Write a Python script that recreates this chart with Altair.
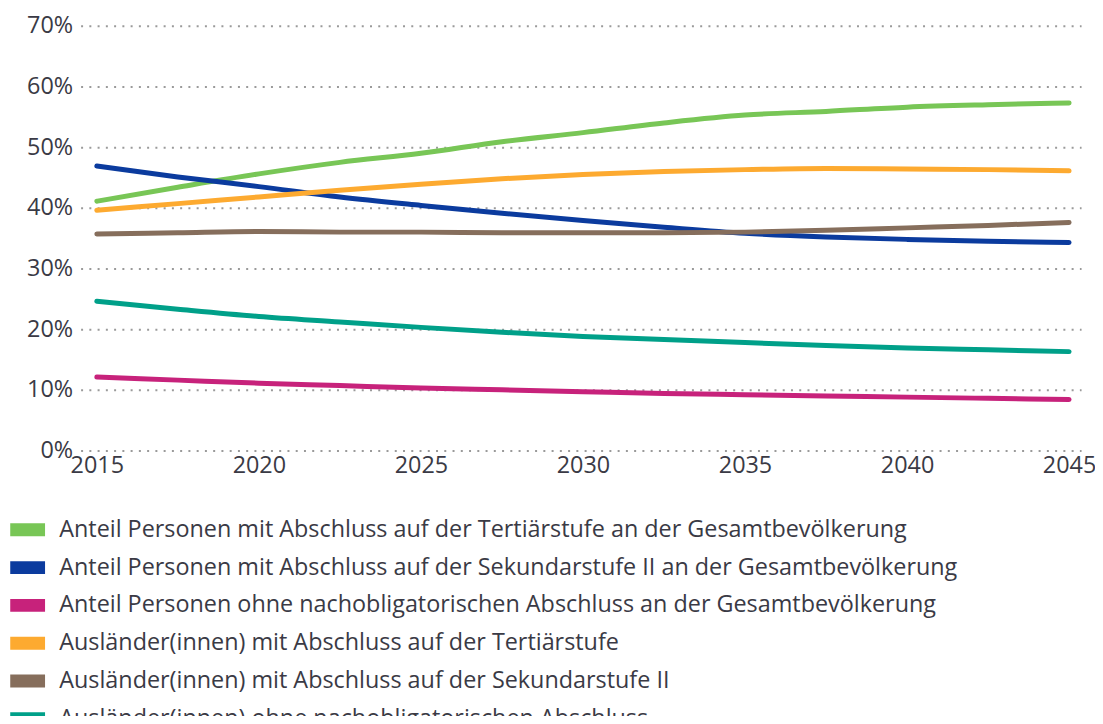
import altair as alt
import pandas as pd

years = [2015, 2017.5, 2020, 2022.5, 2025, 2027.5, 2030, 2032.5, 2035, 2037.5, 2040, 2042.5, 2045]

series_names = [
    "Anteil Personen mit Abschluss auf der Tertiärstufe an der Gesamtbevölkerung",
    "Anteil Personen mit Abschluss auf der Sekundarstufe II an der Gesamtbevölkerung",
    "Anteil Personen ohne nachobligatorischen Abschluss an der Gesamtbevölkerung",
    "Ausländer(innen) mit Abschluss auf der Tertiärstufe",
    "Ausländer(innen) mit Abschluss auf der Sekundarstufe II",
    "Ausländer(innen) ohne nachobligatorischen Abschluss",
]
colors = ["#78C656", "#0B3B9E", "#C7227B", "#FDAA30", "#866E5C", "#00A089"]

tertiaer_gesamt = [41.1, 43.4, 45.6, 47.5, 49.0, 50.9, 52.4, 54.0, 55.3, 55.9, 56.6, 57.0, 57.3]
sek2_gesamt = [46.9, 45.1, 43.5, 41.8, 40.4, 39.1, 37.9, 36.8, 35.8, 35.2, 34.8, 34.5, 34.3]
ohne_gesamt = [12.1, 11.6, 11.1, 10.7, 10.3, 10.0, 9.7, 9.4, 9.2, 9.0, 8.8, 8.6, 8.4]
tertiaer_ausl = [39.6, 40.7, 41.8, 42.9, 43.9, 44.8, 45.5, 46.0, 46.3, 46.5, 46.4, 46.3, 46.1]
sek2_ausl = [35.7, 35.9, 36.1, 36.0, 36.0, 35.9, 35.9, 35.9, 36.0, 36.3, 36.7, 37.1, 37.6]
ohne_ausl = [24.6, 23.3, 22.1, 21.2, 20.3, 19.5, 18.8, 18.3, 17.8, 17.3, 16.9, 16.6, 16.3]

x_ticks = [2015, 2020, 2025, 2030, 2035, 2040, 2045]
y_ticks = [0, 0.1, 0.2, 0.3, 0.4, 0.5, 0.6, 0.7]

all_series = [tertiaer_gesamt, sek2_gesamt, ohne_gesamt, tertiaer_ausl, sek2_ausl, ohne_ausl]
rows = []
for name, vals in zip(series_names, all_series):
    for yr, v in zip(years, vals):
        rows.append({"Jahr": yr, "Serie": name, "Anteil": v / 100.0})
df = pd.DataFrame(rows)

FONT = "Open Sans"
TEXT = "#3a3a45"
FS = 23.5

chart = alt.Chart(df).mark_line(
    strokeWidth=5, strokeCap="round", strokeJoin="round", interpolate="monotone"
).encode(
    x=alt.X(
        "Jahr:Q",
        scale=alt.Scale(domain=[2014.5, 2045.37], nice=False, zero=False),
        axis=alt.Axis(
            values=x_ticks, format="d", title=None, grid=False, ticks=False,
            domain=False, labelPadding=3, labelFontSize=FS, labelFont=FONT,
            labelColor=TEXT, labelFlush=False, labelOverlap=False,
        ),
    ),
    y=alt.Y(
        "Anteil:Q",
        scale=alt.Scale(domain=[0, 0.7], nice=False),
        axis=alt.Axis(
            values=y_ticks, format=".0%", title=None, ticks=False, domain=False,
            labelPadding=8, labelFontSize=FS, labelFont=FONT, labelColor=TEXT,
            grid=True, gridColor="#9a9a9a", gridDash=[2, 6.3], gridWidth=2,
            labelOverlap=False,
        ),
    ),
    color=alt.Color(
        "Serie:N",
        sort=series_names,
        scale=alt.Scale(domain=series_names, range=colors),
        legend=alt.Legend(
            title=None, orient="none", legendX=-65, legendY=495,
            direction="vertical", symbolType="M-3.5,0H3.5", symbolSize=100,
            symbolStrokeWidth=13, labelFontSize=FS, labelFont=FONT,
            labelColor=TEXT, labelLimit=1100, labelOffset=20, rowPadding=-26,
            padding=0,
        ),
    ),
).properties(
    width=1006,
    height=427,
    padding={"left": 73, "top": 16, "right": 14, "bottom": 265},
    autosize=alt.AutoSizeParams(type="none"),
).configure_view(stroke=None)

chart.save("out.html", embed_options={"renderer": "svg", "actions": False})
